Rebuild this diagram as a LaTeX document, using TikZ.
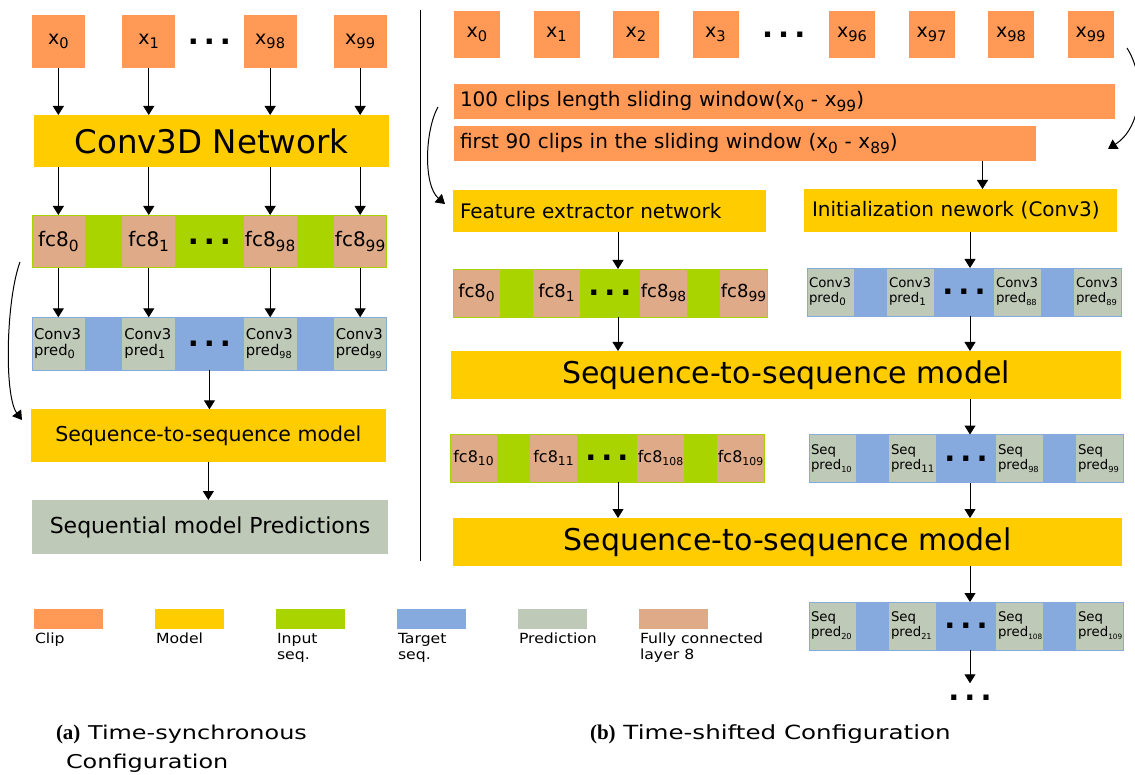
\documentclass[tikz,border=0pt]{standalone}
\usepackage{fontspec}
\setmainfont{DejaVu Sans}
\newfontfamily\capfont{Liberation Serif}
\newfontfamily\capsans[FakeStretch=1.26]{DejaVu Sans}
\newfontfamily\keysans[FakeStretch=1.12]{DejaVu Sans}
\usepackage{xcolor}
\usepackage{tikz}
\usetikzlibrary{positioning, calc, arrows.meta}

\definecolor{clipc}{HTML}{FF9955}
\definecolor{modelc}{HTML}{FFCC00}
\definecolor{inpc}{HTML}{AAD400}
\definecolor{tgtc}{HTML}{87AADE}
\definecolor{predc}{HTML}{BFC9B8}
\definecolor{fcc}{HTML}{DEAA87}

\newcommand{\fsz}[2]{\fontsize{#1}{#2}\selectfont}
\newcommand{\idx}[2][.77]{\raisebox{-.22em}{\scalebox{#1}{#2}}}
\newcommand{\gapdots}{{\fsz{29}{29}\bfseries .\kern5pt.\kern5pt.}}

\begin{document}
\begin{tikzpicture}[
        x=1pt, y=-1pt,
        every node/.style={inner sep=0pt, outer sep=0pt},
        clipbox/.style={fill=clipc, minimum width=46pt, minimum height=47pt, font=\fsz{19}{22}},
        model/.style={fill=modelc},
        bar/.style={anchor=north west, align=left, font=\fsz{20}{22}},
        cell/.style={minimum width=47pt, minimum height=48pt},
        fc/.style={cell, fill=fcc, font=\fsz{18}{22}},
        inp/.style={cell, fill=inpc},
        tgt/.style={cell, fill=tgtc},
        pred/.style={cell, fill=predc, text width=43pt, align=left, font=\fsz{13.3}{15}},
        big/.style={minimum width=52.7pt, minimum height=52.7pt},
        swatch/.style={minimum width=69pt, minimum height=20pt},
        keytext/.style={anchor=north west, align=left, font=\keysans\fsz{14}{16}},
        to/.style={-{Triangle[width=11pt,length=9pt]}, line width=1pt},
        ]
      \useasboundingbox (0,0) rectangle (1135,775);

      % (a) time-synchronous
      \node [clipbox, big, anchor=north west] (lx0) at (32,15) {x\idx{0}};
      \node [clipbox, big, right=37.7pt of lx0] (lx1) {x\idx{1}};
      \node [clipbox, big, right=68.7pt of lx1] (lx98) {x\idx{98}};
      \node [clipbox, big, right=37.3pt of lx98] (lx99) {x\idx{99}};
      \node (lxdots) at ($(lx1.east)!.5!(lx98.west)$) {\gapdots};
      \node [model, anchor=north west, minimum width=355pt, minimum height=52pt, font=\fsz{32.5}{36}] (conv3d) at (34,115) {Conv3D Network};

      \node [fc, big, font=\fsz{20}{22}, anchor=north west] (lf0) at (32,215) {fc8\idx{0}};
      \node [inp, big, minimum width=37.7pt, right=0pt of lf0] (lg0) {};
      \node [fc, big, font=\fsz{20}{22}, right=0pt of lg0] (lf1) {fc8\idx{1}};
      \node [inp, big, minimum width=68.7pt, right=0pt of lf1] (lg1) {\gapdots};
      \node [fc, big, font=\fsz{20}{22}, right=0pt of lg1] (lf98) {fc8\idx{98}};
      \node [inp, big, minimum width=37.3pt, right=0pt of lf98] (lg98) {};
      \node [fc, big, font=\fsz{20}{22}, right=0pt of lg98] (lf99) {fc8\idx{99}};
      \draw [inpc, line width=.8pt] (lf0.north west) rectangle (lf99.south east);

      \node [pred, big, text width=48.7pt, font=\fsz{14.8}{15.5}, anchor=north west] (lp0) at (32,317.3) {Conv3\\pred\idx{0}};
      \node [tgt, big, minimum width=37.7pt, right=0pt of lp0] (lt0) {};
      \node [pred, big, text width=48.7pt, font=\fsz{14.8}{15.5}, right=0pt of lt0] (lp1) {Conv3\\pred\idx{1}};
      \node [tgt, big, minimum width=68.7pt, right=0pt of lp1] (lt1) {\gapdots};
      \node [pred, big, text width=48.7pt, font=\fsz{14.8}{15.5}, right=0pt of lt1] (lp98) {Conv3\\pred\idx[.65]{98}};
      \node [tgt, big, minimum width=37.3pt, right=0pt of lp98] (lt98) {};
      \node [pred, big, text width=48.7pt, font=\fsz{14.8}{15.5}, right=0pt of lt98] (lp99) {Conv3\\pred\idx[.65]{99}};
      \draw [tgtc, line width=.8pt] (lp0.north west) rectangle (lp99.south east);

      \node [model, anchor=north west, minimum width=354.7pt, minimum height=52.4pt, font=\fsz{20.5}{24}] (ls2s) at (31,409.3) {Sequence-to-sequence model};
      \node [fill=predc, anchor=north west, minimum width=355.4pt, minimum height=54.3pt, font=\fsz{22}{26}] (lout) at (32.3,500) {Sequential model Predictions};

      \draw[to] (lx0.south) -- (lx0.south |- conv3d.north);
      \draw[to] (lx1.south) -- (lx1.south |- conv3d.north);
      \draw[to] (lx98.south) -- (lx98.south |- conv3d.north);
      \draw[to] (lx99.south) -- (lx99.south |- conv3d.north);
      \draw[to] (lf0 |- conv3d.south) -- (lf0.north);
      \draw[to] (lf1 |- conv3d.south) -- (lf1.north);
      \draw[to] (lf98 |- conv3d.south) -- (lf98.north);
      \draw[to] (lf99 |- conv3d.south) -- (lf99.north);
      \draw[to] (lf0.south) -- (lp0.north);
      \draw[to] (lf1.south) -- (lp1.north);
      \draw[to] (lf98.south) -- (lp98.north);
      \draw[to] (lf99.south) -- (lp99.north);
      \draw[to] (lt1.south) -- (lt1.south |- ls2s.north);
      \draw[to] (ls2s.south) -- (ls2s.south |- lout.north);
      % fc8 features skip straight into the seq2seq model
      \coordinate (lskipA) at (20,262);
      \coordinate (lskipB) at (22,420);
      \draw[to] (lskipA) .. controls (6,300) and (4,396) .. (lskipB);

      \draw [line width=1pt] (420,10) -- (420,561);

      % (b) time-shifted
      \node [clipbox, anchor=north west] (rx0) at (454,11) {x\idx{0}};
      \node [clipbox, right=33.5pt of rx0] (rx1) {x\idx{1}};
      \node [clipbox, right=33.5pt of rx1] (rx2) {x\idx{2}};
      \node [clipbox, right=33.5pt of rx2] (rx3) {x\idx{3}};
      \node [clipbox, right=90.5pt of rx3] (rx96) {x\idx{96}};
      \node [clipbox, right=33.5pt of rx96] (rx97) {x\idx{97}};
      \node [clipbox, right=33.5pt of rx97] (rx98) {x\idx{98}};
      \node [clipbox, right=33.5pt of rx98] (rx99) {x\idx{99}};
      \node (rxdots) at ($(rx3.east)!.5!(rx96.west)$) {\gapdots};

      \node [bar, fill=clipc, minimum width=661pt, minimum height=35pt, text width=649pt] (window) at (454,84) {100 clips length sliding window(x\idx{0} - x\idx{99})};
      \node [bar, fill=clipc, minimum width=581.6pt, minimum height=35pt, text width=569.6pt] (first90) at (454,126) {first 90 clips in the sliding window (x\idx{0} - x\idx{89})};
      \node [bar, model, minimum width=312.6pt, minimum height=42pt, text width=298.6pt] (featnet) at (453,190) {Feature extractor network};
      \node [bar, model, minimum width=313pt, minimum height=43pt, text width=297pt] (initnet) at (804,189) {Initialization nework (Conv3)};

      \node [fc, anchor=north west] (rf0) at (453,269) {fc8\idx{0}};
      \node [inp, minimum width=33pt, right=0pt of rf0] (rg0) {};
      \node [fc, right=0pt of rg0] (rf1) {fc8\idx{1}};
      \node [inp, minimum width=60pt, right=0pt of rf1] (rg1) {\gapdots};
      \node [fc, right=0pt of rg1] (rf98) {fc8\idx{98}};
      \node [inp, minimum width=33pt, right=0pt of rf98] (rg98) {};
      \node [fc, right=0pt of rg98] (rf99) {fc8\idx{99}};
      \draw [inpc, line width=.8pt] (rf0.north west) rectangle (rf99.south east);

      \node [pred, anchor=north west] (rp0) at (807,268) {Conv3\\pred\idx{0}};
      \node [tgt, minimum width=33pt, right=0pt of rp0] (rt0) {};
      \node [pred, right=0pt of rt0] (rp1) {Conv3\\pred\idx{1}};
      \node [tgt, minimum width=60pt, right=0pt of rp1] (rt1) {\gapdots};
      \node [pred, right=0pt of rt1] (rp88) {Conv3\\pred\idx[.62]{88}};
      \node [tgt, minimum width=33pt, right=0pt of rp88] (rt88) {};
      \node [pred, right=0pt of rt88] (rp89) {Conv3\\pred\idx[.62]{89}};
      \draw [tgtc, line width=.8pt] (rp0.north west) rectangle (rp89.south east);

      \node [model, anchor=north west, minimum width=670pt, minimum height=48pt, font=\fsz{30}{34}] (s2sA) at (451,351) {Sequence-to-sequence model};

      \node [fc, font=\fsz{16}{20}, anchor=north west] (sf10) at (450,434) {fc8\idx{10}};
      \node [inp, minimum width=33pt, right=0pt of sf10] (sg10) {};
      \node [fc, font=\fsz{16}{20}, right=0pt of sg10] (sf11) {fc8\idx{11}};
      \node [inp, minimum width=60pt, right=0pt of sf11] (sg11) {\gapdots};
      \node [fc, font=\fsz{16}{20}, right=0pt of sg11] (sf108) {fc8\idx[.68]{108}};
      \node [inp, minimum width=33pt, right=0pt of sf108] (sg108) {};
      \node [fc, font=\fsz{16}{20}, right=0pt of sg108] (sf109) {fc8\idx[.68]{109}};
      \draw [inpc, line width=.8pt] (sf10.north west) rectangle (sf109.south east);

      \node [pred, anchor=north west] (sp10) at (809,434.5) {Seq\\pred\idx[.62]{10}};
      \node [tgt, minimum width=33pt, right=0pt of sp10] (st10) {};
      \node [pred, right=0pt of st10] (sp11) {Seq\\pred\idx{11}};
      \node [tgt, minimum width=60pt, right=0pt of sp11] (st11) {\gapdots};
      \node [pred, right=0pt of st11] (sp98) {Seq\\pred\idx[.62]{98}};
      \node [tgt, minimum width=33pt, right=0pt of sp98] (st98) {};
      \node [pred, right=0pt of st98] (sp99) {Seq\\pred\idx[.62]{99}};
      \draw [tgtc, line width=.8pt] (sp10.north west) rectangle (sp99.south east);

      \node [model, anchor=north west, minimum width=669pt, minimum height=48pt, font=\fsz{30}{34}] (s2sB) at (453,518) {Sequence-to-sequence model};

      \node [pred, anchor=north west] (sp20) at (809,602) {Seq\\pred\idx[.62]{20}};
      \node [tgt, minimum width=33pt, right=0pt of sp20] (st20) {};
      \node [pred, right=0pt of st20] (sp21) {Seq\\pred\idx[.62]{21}};
      \node [tgt, minimum width=60pt, right=0pt of sp21] (st21) {\gapdots};
      \node [pred, right=0pt of st21] (sp108) {Seq\\pred\idx[.55]{108}};
      \node [tgt, minimum width=33pt, right=0pt of sp108] (st108) {};
      \node [pred, right=0pt of st108] (sp109) {Seq\\pred\idx[.55]{109}};
      \draw [tgtc, line width=.8pt] (sp20.north west) rectangle (sp109.south east);
      \node (enddots) at (970,698) {\gapdots};

      % arrow columns
      \coordinate (colA) at (618,0);
      \coordinate (colB) at (970,0);
      \draw[to] ([xshift=22pt]initnet.north |- first90.south) -- ([xshift=22pt]initnet.north);
      \draw[to] (featnet.south -| colA) -- (rf0.north -| colA);
      \draw[to] (initnet.south -| colB) -- (rp0.north -| colB);
      \draw[to] (rf0.south -| colA) -- (s2sA.north -| colA);
      \draw[to] (rp0.south -| colB) -- (s2sA.north -| colB);
      \draw[to] (s2sA.south -| colB) -- (sp10.north -| colB);
      \draw[to] (sf10.south -| colA) -- (s2sB.north -| colA);
      \draw[to] (sp10.south -| colB) -- (s2sB.north -| colB);
      \draw[to] (s2sB.south -| colB) -- (sp20.north -| colB);
      \draw[to] (sp20.south -| colB) -- ([yshift=12pt]enddots.north -| colB);
      % window features and shifted start
      \coordinate (rskipA) at (438,107);
      \coordinate (rskipB) at (445,204);
      \draw[to] (rskipA) .. controls (425,130) and (423,185) .. (rskipB);
      \coordinate (rloopA) at (1127,48);
      \coordinate (rloopB) at (1108,149);
      \draw[to] (rloopA) .. controls (1147,80) and (1141,128) .. (rloopB);

      % legend
      \node [swatch, fill=clipc, anchor=north west] (kclip) at (34,609) {};
      \node [swatch, fill=modelc, right=52pt of kclip] (kmodel) {};
      \node [swatch, fill=inpc, right=52pt of kmodel] (kinp) {};
      \node [swatch, fill=tgtc, right=52pt of kinp] (ktgt) {};
      \node [swatch, fill=predc, right=52pt of ktgt] (kpred) {};
      \node [swatch, fill=fcc, right=52pt of kpred] (kfc) {};
      \node [keytext] at ([xshift=1pt,yshift=-4pt]kclip.south west) {Clip};
      \node [keytext] at ([xshift=1pt,yshift=-4pt]kmodel.south west) {Model};
      \node [keytext] at ([xshift=1pt,yshift=-4pt]kinp.south west) {Input\\seq.};
      \node [keytext] at ([xshift=1pt,yshift=-4pt]ktgt.south west) {Target\\seq.};
      \node [keytext] at ([xshift=1pt,yshift=-4pt]kpred.south west) {Prediction};
      \node [keytext] at ([xshift=1pt,yshift=-4pt]kfc.south west) {Fully connected\\layer 8};

      % captions
      \node [anchor=base west, align=left, font=\capsans\fsz{19}{29}] (capa) at (56,768) {{\capfont\fsz{21}{29}\bfseries (a)} Time-synchronous\\\hspace*{10pt}Configuration};
      \node [anchor=base west, font=\capsans\fsz{19.5}{25}] (capb) at (590,739) {{\capfont\fsz{21}{25}\bfseries (b)} Time-shifted Configuration};
    \end{tikzpicture}
\end{document}
